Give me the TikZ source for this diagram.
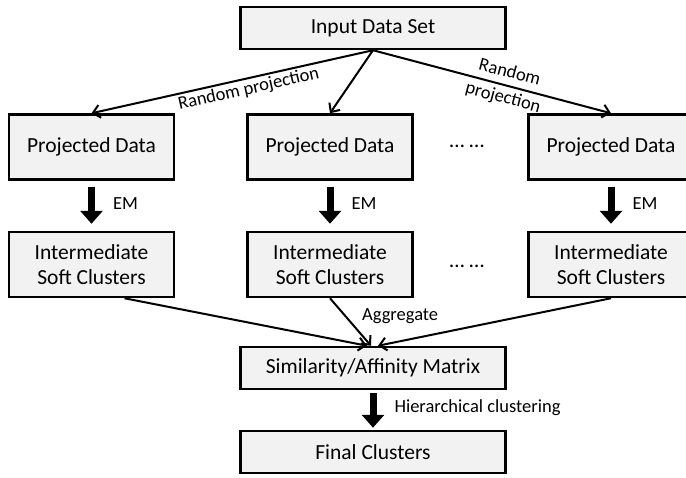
\documentclass[tikz,border=0pt]{standalone}
\usepackage{fontspec}
\setmainfont{Carlito}
\usetikzlibrary{arrows.meta}
\definecolor{boxgray}{HTML}{F2F2F2}
\tikzset{box/.style={draw,line width=2.5pt,fill=boxgray,minimum width=165pt,minimum height=65pt,inner sep=0pt,align=center,font=\fontsize{21.5}{25}\selectfont},
  wide/.style={box,minimum width=265pt,minimum height=42pt},
  thin/.style={line width=2pt,-{Straight Barb[length=7pt,width=13pt]}},
  fat/.style={line width=7pt,-{Triangle[length=13pt,width=22pt]}},
  lbl/.style={font=\fontsize{18.5}{22}\selectfont,inner sep=2pt},
  dots/.style={font=\fontsize{21.5}{25}\selectfont,inner sep=0pt}}

\begin{document}
\begin{tikzpicture}[x=1pt,y=-1pt]
\useasboundingbox (0,0) rectangle (686,477);
\clip (0,0) rectangle (686,477);
      \node[wide] (in) at (373,28) {Input Data Set};
      \node[box] (p1) at (91.5,147) {Projected Data};
      \node[box] (p2) at (330,147) {Projected Data};
      \node[box] (p3) at (611,147) {Projected Data};
      \node[box] (c1) at (91.5,264.5) {Intermediate\\Soft Clusters};
      \node[box] (c2) at (330,264.5) {Intermediate\\Soft Clusters};
      \node[box] (c3) at (611,264.5) {Intermediate\\Soft Clusters};
      \node[wide] (sim) at (373,368) {Similarity/Affinity Matrix};
      \node[wide] (fin) at (373,452) {Final Clusters};
      \node[dots] (d1) at (467,146) {…\ …};
      \node[dots] (d2) at (467,266) {…\ …};

\draw[thin] (in.south) -- (p1.north) node[lbl,sloped,below,pos=0.45] {Random projection};
\draw[thin] (in.south) -- (p2.north);
\draw[thin] (in.south) -- (p3.north) node[lbl,sloped,pos=0.56,align=center,font=\fontsize{18.5}{26}\selectfont] {Random\\projection};

\foreach \i in {1,2,3}
  \draw[fat] ([yshift=-6pt]p\i.south) -- ([yshift=7pt]c\i.north) node[lbl,right,pos=0.45,xshift=16pt] {EM};

\draw[thin] ([xshift=33pt]c1.south) -- ([xshift=-6pt]sim.north);
\draw[thin] (c2.south) -- ([xshift=-2pt]sim.north) node[lbl,right,pos=0.37,xshift=14pt] {Aggregate};
\draw[thin] (c3.south) -- ([xshift=5pt]sim.north);

\draw[fat] ([yshift=-3pt]sim.south) -- ([yshift=2pt]fin.north) node[lbl,right,pos=0.42,xshift=16pt] {Hierarchical clustering};
    \end{tikzpicture}
\end{document}
